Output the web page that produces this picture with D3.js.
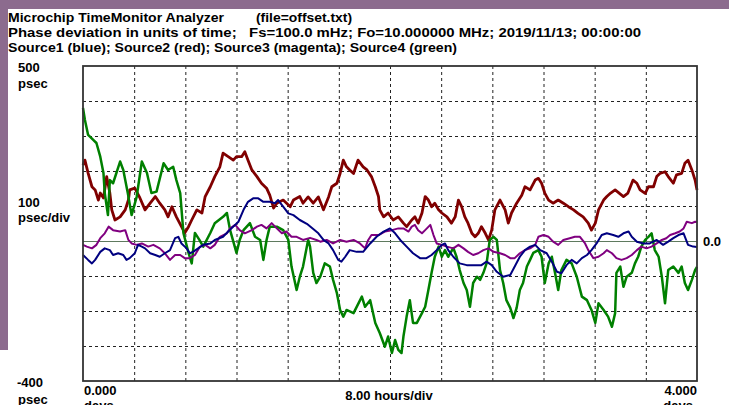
<!DOCTYPE html>
<html><head><meta charset="utf-8">
<script src="https://cdn.jsdelivr.net/npm/d3@7"></script>
<style>
html,body{margin:0;padding:0;background:#fff;}
svg{display:block;}
text{white-space:pre;}
</style></head>
<body>
<script>
// ---- data (time in hours, phase in psec) ----
const source1 = [[0,-40],[0.8,-54],[1.4,-64],[1.9,-54],[2.7,-31],[3.4,-21],[4.2,-26],[4.7,-40],[5.5,-35],[6.3,-40],[6.8,-54],[7.3,-49],[8.1,-35],[8.6,-11],[9.2,-16],[9.7,-21],[10.5,-35],[11.3,-40],[12.0,-45],[12.8,-35],[13.6,-26],[14.4,8],[14.9,12],[15.4,-7],[16.2,-21],[16.7,-35],[17.2,-31],[18.0,-21],[18.8,-11],[19.9,-7],[20.6,3],[21.9,12],[22.7,27],[23.5,41],[24.3,55],[25.1,89],[25.8,112],[26.6,122],[27.4,122],[28.2,112],[29.2,112],[30.0,108],[30.5,117],[31.3,98],[32.1,79],[32.9,74],[33.9,60],[35.0,49],[36.0,34],[36.8,22],[37.6,3],[38.4,-7],[39.1,-26],[39.9,-54],[40.4,-59],[41.0,-45],[41.7,-26],[42.8,-31],[43.8,-31],[44.9,-7],[45.9,12],[47.0,27],[48.0,36],[48.8,22],[49.6,3],[50.6,-16],[51.6,-35],[52.7,-49],[53.7,-49],[54.5,-40],[55.3,-26],[56.1,-11],[56.6,-7],[57.1,-26],[57.9,-45],[58.9,-64],[60.0,-69],[61.0,-69],[62.3,-69],[63.1,-59],[63.9,-69],[64.7,-88],[65.7,-102],[66.8,-97],[67.5,-73],[68.3,-45],[69.1,-26],[69.9,-16],[70.7,-11],[71.5,-26],[72.5,-35],[73.3,-59],[74.1,-88],[74.8,-92],[75.6,-69],[76.4,-54],[77.2,-64],[78.0,-49],[78.8,-40],[79.5,-26],[80.3,-7],[81.1,17],[81.9,22],[82.9,17],[83.7,12],[84.5,22],[85.3,27],[85.8,12],[86.6,-2],[87.6,-7],[88.6,-7],[89.7,3],[90.7,-11],[91.5,-2],[92.3,8],[93.1,17],[93.9,22],[94.6,-11],[95.4,-16],[96,-17]];

const source2 = [[0,217],[0.3,231],[0.8,194],[1.4,155],[1.9,146],[2.4,117],[2.7,137],[3.2,123],[3.7,184],[4.2,137],[4.5,89],[5.0,60],[5.8,69],[6.6,89],[7.1,117],[7.3,146],[8.1,151],[8.9,123],[9.7,89],[10.5,108],[11.3,127],[12.0,108],[12.8,89],[13.3,69],[13.9,98],[14.6,69],[15.4,41],[15.9,23],[16.5,41],[17.0,60],[17.8,89],[18.6,80],[19.1,127],[19.9,155],[20.6,184],[21.4,212],[21.9,251],[22.7,241],[23.5,231],[24.0,241],[24.8,241],[25.3,255],[25.8,231],[26.4,203],[27.2,184],[27.9,165],[28.7,151],[29.2,131],[29.8,94],[30.3,108],[31.3,117],[32.4,98],[32.9,117],[33.9,127],[34.4,108],[35.2,126],[36.0,108],[36.8,126],[37.6,89],[38.4,126],[38.9,155],[39.7,165],[40.2,193],[40.7,231],[41.2,212],[41.7,203],[42.3,193],[43.0,231],[43.8,212],[44.4,203],[45.1,184],[45.7,155],[46.2,127],[46.4,89],[47.0,69],[47.7,80],[48.5,60],[49.3,69],[50.1,51],[50.6,41],[51.4,60],[51.9,69],[52.4,51],[53.0,80],[53.5,127],[54.0,117],[54.5,98],[55.0,108],[55.6,89],[56.1,80],[56.9,69],[57.6,51],[58.2,69],[58.7,117],[59.2,98],[59.7,69],[60.2,51],[60.8,22],[61.3,12],[61.8,22],[62.3,41],[62.9,22],[63.4,3],[63.9,31],[64.4,89],[65.2,117],[66.0,89],[66.5,51],[67.0,80],[67.8,108],[68.6,131],[69.1,155],[69.9,146],[70.7,174],[71.2,179],[71.7,165],[72.2,137],[72.8,117],[73.5,108],[74.3,117],[75.1,108],[75.9,98],[76.7,89],[77.4,79],[78.2,69],[79.0,51],[79.5,31],[80.1,51],[80.6,89],[81.4,117],[81.9,127],[82.5,137],[83.2,146],[84.5,127],[85.2,137],[86.0,174],[86.6,165],[87.1,146],[87.9,136],[88.4,155],[89.2,155],[89.7,184],[90.2,193],[91.0,198],[91.5,184],[92.3,165],[92.8,189],[93.6,193],[94.1,222],[94.6,231],[95.2,203],[95.7,174],[96,146]];

const source3 = [[0,-11],[0.6,-16],[1.4,-21],[2.1,-11],[2.7,8],[3.4,22],[4.0,41],[4.7,31],[5.8,27],[6.6,31],[7.1,3],[7.6,-7],[8.4,-11],[9.2,-7],[10.2,-16],[11.0,-11],[12.0,-21],[12.8,-35],[13.6,-54],[14.4,-40],[15.2,-40],[15.9,-49],[16.7,-49],[17.5,-40],[18.3,-16],[19.1,-11],[19.9,-21],[20.6,-11],[21.4,12],[22.5,22],[23.0,36],[23.8,46],[24.5,31],[25.3,22],[26.4,31],[27.2,41],[27.9,46],[28.7,36],[29.5,51],[30.3,36],[31.1,22],[31.8,27],[32.6,12],[33.4,12],[34.4,3],[35.5,9],[36.5,3],[37.1,-2],[38.1,3],[39.1,-7],[40.2,3],[41.2,-2],[42.3,3],[43.3,-7],[44.1,-21],[44.6,3],[45.1,17],[46.2,17],[47.2,27],[48.3,31],[49.3,36],[50.1,36],[50.9,27],[51.4,41],[51.9,46],[52.4,31],[53.0,22],[53.5,31],[54.3,46],[54.8,17],[55.3,-7],[56.1,-11],[56.9,-16],[57.9,-21],[58.7,-11],[59.5,-21],[60.2,-31],[61.0,-40],[61.8,-35],[62.6,-26],[63.4,-21],[64.2,-31],[65.2,-35],[66.0,-40],[66.8,-49],[67.5,-49],[68.3,-35],[69.1,-26],[69.9,-21],[70.7,-11],[71.2,12],[72.0,17],[72.8,12],[73.5,-2],[74.3,-11],[75.1,3],[76.1,8],[76.9,12],[77.7,12],[78.5,-7],[79.0,-26],[79.8,-49],[80.6,-45],[81.4,-35],[81.9,-26],[82.7,-35],[83.4,-49],[84.2,-54],[85.0,-49],[85.8,-40],[86.6,-26],[87.3,-16],[88.1,-21],[88.9,-16],[89.7,-7],[90.5,3],[91.2,8],[91.8,17],[92.6,22],[93.3,27],[93.9,36],[94.4,55],[95.2,51],[95.7,55],[96,54]];

const source4 = [[0,380],[0.3,346],[0.8,303],[1.6,289],[2.1,280],[2.7,241],[3.2,194],[3.4,137],[3.9,74],[4.2,174],[4.7,165],[5.8,227],[6.3,203],[7.0,137],[7.6,74],[8.4,127],[9.2,227],[10.0,194],[10.7,137],[11.5,141],[12.6,222],[13.3,203],[14.1,212],[14.6,174],[15.2,137],[15.7,23],[16.5,-34],[17.0,-64],[17.5,23],[18.2,3],[18.8,-16],[19.9,23],[20.6,51],[21.9,69],[22.5,80],[23.0,31],[24.0,-34],[24.5,3],[25.1,31],[26.1,51],[26.9,12],[27.7,3],[28.2,-54],[28.7,3],[29.2,41],[30.3,41],[31.3,31],[32.1,3],[32.6,-73],[33.4,-140],[33.9,-102],[34.4,-73],[35.2,3],[35.5,-16],[36.0,-91],[36.5,-120],[37.1,-102],[37.8,-64],[38.6,-73],[39.1,-111],[39.7,-149],[40.2,-197],[40.7,-216],[41.2,-197],[42.3,-206],[43.6,-159],[44.1,-188],[44.9,-169],[45.7,-234],[46.4,-263],[47.2,-302],[47.7,-273],[48.3,-320],[48.8,-283],[49.3,-311],[49.8,-320],[50.1,-273],[50.6,-216],[51.1,-169],[51.6,-234],[52.2,-234],[53.0,-206],[53.5,-188],[54.0,-140],[54.5,-91],[55.0,-45],[55.6,-16],[56.1,-45],[56.6,-26],[57.1,-45],[57.9,-20],[58.4,-45],[58.9,-83],[59.5,-120],[60.0,-140],[60.5,-188],[61.0,-120],[61.6,-102],[62.1,-111],[62.6,-91],[63.1,-64],[63.6,3],[64.2,12],[64.7,3],[65.2,-83],[65.7,-120],[66.2,-169],[66.8,-191],[67.3,-220],[67.8,-191],[68.3,-140],[68.8,-120],[69.4,-73],[69.9,-54],[70.4,-34],[71.2,-26],[71.7,-45],[72.2,-120],[72.8,-64],[73.3,-45],[73.8,-91],[74.3,-140],[74.8,-83],[75.6,-54],[76.4,-64],[77.2,-102],[78.0,-159],[78.8,-169],[79.5,-197],[80.1,-234],[80.6,-178],[81.4,-197],[82.1,-216],[82.7,-245],[83.2,-206],[83.4,-91],[84.0,-73],[84.5,-131],[85.0,-102],[85.8,-91],[86.3,-64],[86.8,-45],[87.3,-16],[87.9,3],[88.4,12],[88.9,22],[89.4,-26],[90.0,-45],[90.5,-102],[91.0,-178],[91.5,-83],[92.3,-73],[93.1,-91],[93.6,-73],[94.1,-120],[94.6,-140],[95.2,-111],[95.7,-83],[96,-74]];

const xTicks = [0,8,16,24,32,40,48,56,64,72,80,88,96];      // hours
const yTicks = [-400,-300,-200,-100,0,100,200,300,400,500]; // psec

const titleLines = [
  "Microchip TimeMonitor Analyzer",
  "(file=offset.txt)",
  "Phase deviation in units of time;   Fs=100.0 mHz; Fo=10.000000 MHz; 2019/11/13; 00:00:00",
  "Source1 (blue); Source2 (red); Source3 (magenta); Source4 (green)"
];

// ---- drawing ----
const W = 729, H = 405;
const svg = d3.select("body").append("svg").attr("width", W).attr("height", H);

// window frame colour
svg.append("rect").attr("x",0).attr("y",0).attr("width",W).attr("height",9).attr("fill","#8c6b8e");
svg.append("rect").attr("x",0).attr("y",0).attr("width",8).attr("height",350).attr("fill","#8c6b8e");

const x = d3.scaleLinear().domain([0,96]).range([83,697]);
const y = d3.scaleLinear().domain([-400,500]).range([381,66]);

const font = "'Liberation Sans','Arial',sans-serif";

// header
function hdr(txt, x0, x1, yb){
  svg.append("text").attr("x",x0).attr("y",yb).text(txt)
    .attr("font-family",font).attr("font-size",13).attr("font-weight","bold").attr("fill","#000")
    .attr("textLength",x1-x0).attr("lengthAdjust","spacingAndGlyphs");
}
hdr(titleLines[0], 8, 224, 22);
hdr(titleLines[1], 256, 352, 22);
hdr(titleLines[2], 8, 641, 37);
hdr(titleLines[3], 8, 457, 52);

// grid via axes
const gx = svg.append("g").attr("transform",`translate(0,${y(-400)})`)
  .call(d3.axisBottom(x).tickValues(xTicks.slice(1,-1)).tickSize(-(y(-400)-y(500))).tickFormat(""));
const gy = svg.append("g").attr("transform",`translate(${x(0)},0)`)
  .call(d3.axisLeft(y).tickValues(yTicks.slice(1,-1)).tickSize(-(x(96)-x(0))).tickFormat(""));
[gx,gy].forEach(g=>{
  g.select(".domain").remove();
  g.selectAll(".tick line").attr("stroke","#222").attr("stroke-width",1).attr("stroke-dasharray","3,3");
});
gy.selectAll(".tick").filter(d=>d===0).select("line")
  .attr("stroke","#5f7a5f").attr("stroke-dasharray",null).attr("stroke-width",1.2);

// series
const line = d3.line().x(d=>x(d[0])).y(d=>y(d[1]));
const series = [
  {data:source2, color:"#800000", w:2.8},
  {data:source4, color:"#008000", w:2.5},
  {data:source3, color:"#800080", w:2},
  {data:source1, color:"#000080", w:2}
];
series.forEach(s=>{
  svg.append("path").datum(s.data).attr("d",line).attr("fill","none")
    .attr("stroke",s.color).attr("stroke-width",s.w).attr("stroke-linejoin","round");
});

// frame
svg.append("rect").attr("x",x(0)).attr("y",y(500)).attr("width",x(96)-x(0)).attr("height",y(-400)-y(500))
  .attr("fill","none").attr("stroke","#333").attr("stroke-width",1.8);

// axis labels
function lab(txt, xp, yb, anchor){
  svg.append("text").attr("x",xp).attr("y",yb).text(txt).attr("text-anchor",anchor||"start")
    .attr("font-family",font).attr("font-size",13).attr("font-weight","bold").attr("fill","#000");
}
lab(yTicks[yTicks.length-1]+"", 18, 72);
lab("psec", 18, 88);
lab("100", 18, 207);
lab("psec/div", 18, 222);
lab(yTicks[0]+"", 17, 387);
lab("psec", 18, 404);
lab("0.000", 84, 395);
lab("days", 84, 410);
lab("8.00 hours/div", 389, 400, "middle");
lab("4.000", 697, 395, "end");
lab("days", 693, 410, "end");
lab("0.0", 703, 246);
</script>
</body></html>
